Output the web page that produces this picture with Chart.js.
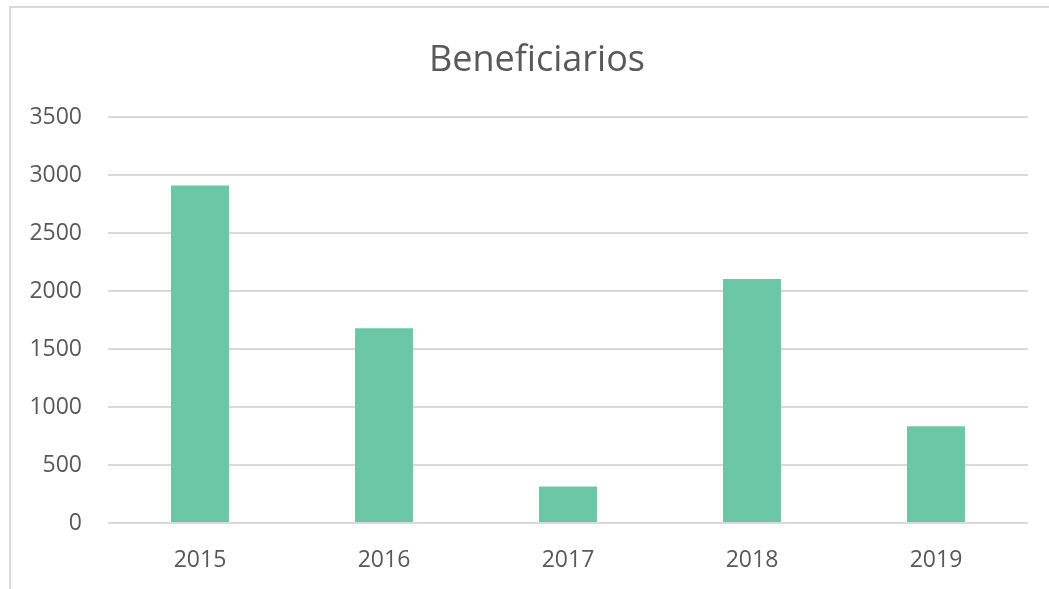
<!DOCTYPE html>
<html>
<head>
<meta charset="utf-8">
<script src="https://cdn.jsdelivr.net/npm/chart.js@4"></script>
<style>
html,body{margin:0;padding:0;background:#fff;width:1049px;height:589px;overflow:hidden;}
#frame{position:absolute;left:9px;top:6px;width:1100px;height:700px;border:2px solid #d9d9d9;box-sizing:border-box;}
#wrap{position:absolute;left:0;top:0;width:1049px;height:589px;}
</style>
</head>
<body>
<div id="frame"></div>
<div id="wrap"><canvas id="c" width="1049" height="589"></canvas></div>
<script>
const categories = ["2015","2016","2017","2018","2019"];
const beneficiarios = [2910, 1680, 315, 2105, 835];
const yTicks = [0,500,1000,1500,2000,2500,3000,3500];
const chartTitle = "Beneficiarios";

Chart.defaults.font.family = "'Open Sans', sans-serif";
Chart.defaults.color = "#595959";

const titleShift = {
  id: "titleShift",
  afterLayout(chart) {
    const t = chart.titleBlock;
    if (t) { t.left = 46; }
  }
};

new Chart(document.getElementById("c"), {
  type: "bar",
  data: {
    labels: categories,
    datasets: [{
      label: chartTitle,
      data: beneficiarios,
      backgroundColor: "#6cc7a6",
      borderWidth: 0,
      categoryPercentage: 1,
      barPercentage: 0.315
    }]
  },
  plugins: [titleShift],
  options: {
    responsive: false,
    animation: false,
    devicePixelRatio: 1,
    layout: { padding: { left: 26, right: 21, top: 39, bottom: 0 } },
    plugins: {
      legend: { display: false },
      tooltip: { enabled: false },
      title: {
        display: true,
        text: chartTitle,
        color: "#595959",
        font: { size: 36, weight: "normal" },
        padding: { top: 0, bottom: 35 }
      }
    },
    scales: {
      x: {
        grid: { display: false, drawTicks: false },
        border: { display: false },
        afterFit: s => { s.height = 66; },
        ticks: { font: { size: 23 }, color: "#595959", padding: 24, maxRotation: 0 }
      },
      y: {
        min: 0, max: 3500,
        afterBuildTicks: s => { s.ticks = yTicks.map(v => ({ value: v })); },
        afterFit: s => { s.width = 82; },
        grid: { color: "#d9d9d9", lineWidth: 2, drawTicks: false },
        border: { display: false },
        ticks: { font: { size: 23 }, color: "#595959", padding: 26, callback: v => String(v) }
      }
    }
  }
});
</script>
</body>
</html>
